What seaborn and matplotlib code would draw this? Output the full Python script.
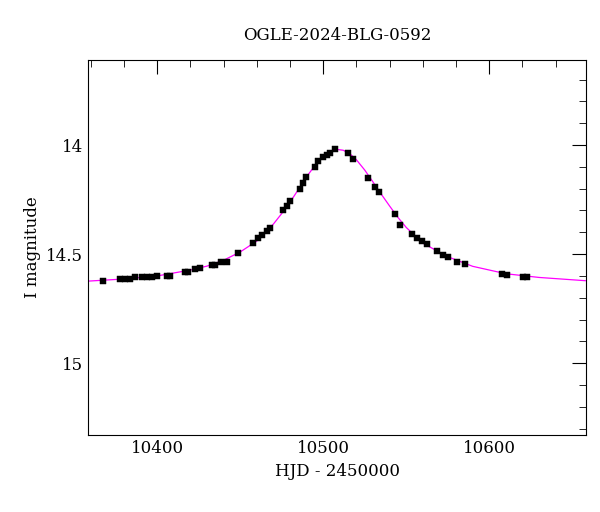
import matplotlib
matplotlib.use("Agg")
import matplotlib.pyplot as plt
import seaborn as sns
import pandas as pd
from matplotlib.ticker import MultipleLocator, FormatStrFormatter

hjd = [10367.5, 10377.5, 10380.5, 10383.5, 10386.5, 10390.6, 10393.6, 10396.6, 10399.6,
       10405.6, 10407.6, 10416.7, 10418.7, 10422.7, 10425.7, 10432.7, 10434.7, 10438.7,
       10441.8, 10448.8, 10457.8, 10460.8, 10462.8, 10465.9, 10467.9, 10475.9, 10477.9,
       10479.9, 10485.9, 10487.9, 10489.9, 10495.0, 10497.0, 10500.0, 10502.0, 10504.0,
       10507.0, 10515.1, 10518.1, 10527.1, 10531.1, 10533.5, 10543.2, 10546.2, 10553.2,
       10556.2, 10559.2, 10562.2, 10568.3, 10572.3, 10575.3, 10580.3, 10585.3, 10607.4,
       10610.4, 10620.5, 10622.5]
mag = [14.622, 14.615, 14.613, 14.612, 14.607, 14.606, 14.607, 14.604, 14.599,
       14.599, 14.599, 14.580, 14.584, 14.567, 14.564, 14.552, 14.549, 14.538,
       14.534, 14.495, 14.447, 14.428, 14.414, 14.393, 14.382, 14.298, 14.280,
       14.255, 14.202, 14.176, 14.145, 14.099, 14.072, 14.057, 14.046, 14.035,
       14.018, 14.038, 14.063, 14.150, 14.194, 14.217, 14.317, 14.367, 14.410,
       14.428, 14.440, 14.456, 14.485, 14.502, 14.514, 14.534, 14.546, 14.593,
       14.595, 14.607, 14.603]
mag_err = [0.006] * len(mag)

model_hjd = [10358, 10380, 10400, 10420, 10430, 10440, 10450, 10460, 10465, 10470, 10475,
             10480, 10485, 10490, 10495, 10500, 10504, 10508, 10512, 10516, 10520, 10525,
             10530, 10535, 10540, 10545, 10550, 10560, 10575, 10590, 10610, 10630, 10658]
model_mag = [14.624, 14.614, 14.600, 14.573, 14.555, 14.528, 14.490, 14.440, 14.404, 14.362,
             14.314, 14.262, 14.204, 14.145, 14.094, 14.054, 14.030, 14.020, 14.024, 14.040,
             14.068, 14.115, 14.170, 14.226, 14.280, 14.332, 14.378, 14.450, 14.512, 14.556,
             14.590, 14.607, 14.622]

data = pd.DataFrame({"hjd": hjd, "mag": mag})
model = pd.DataFrame({"hjd": model_hjd, "mag": model_mag})

sns.set_style("white")
plt.rcParams["font.family"] = "DejaVu Serif"
plt.rcParams["text.color"] = "black"
plt.rcParams["axes.labelcolor"] = "black"
plt.rcParams["xtick.color"] = "black"
plt.rcParams["ytick.color"] = "black"

fig, ax = plt.subplots(figsize=(6, 5.12), dpi=100)
fig.subplots_adjust(left=0.147, right=0.977, top=0.883, bottom=0.15)

sns.lineplot(data=model, x="hjd", y="mag", color="magenta", lw=0.9, ax=ax)
ax.errorbar(hjd, mag, yerr=mag_err, fmt="none", ecolor="black", elinewidth=0.8, zorder=3)
sns.scatterplot(data=data, x="hjd", y="mag", color="black", marker="s", s=16,
                edgecolor="black", ax=ax, zorder=4)

ax.set_xlim(10358.4, 10658.4)
ax.set_ylim(15.33, 13.61)
ax.xaxis.set_major_locator(MultipleLocator(100))
ax.xaxis.set_minor_locator(MultipleLocator(20))
ax.yaxis.set_major_locator(MultipleLocator(0.5))
ax.yaxis.set_minor_locator(MultipleLocator(0.1))
ax.yaxis.set_major_formatter(FormatStrFormatter("%g"))
ax.tick_params(which="both", direction="in", top=True, right=True, labelsize=12)
ax.tick_params(which="major", length=10)
ax.tick_params(which="minor", length=5)
for s in ax.spines.values():
    s.set_color("black")
    s.set_linewidth(0.8)

ax.set_title("OGLE-2024-BLG-0592", fontsize=12, pad=14)
ax.set_xlabel("HJD - 2450000", fontsize=12)
ax.set_ylabel("I magnitude", fontsize=12)

fig.savefig("out.png")
